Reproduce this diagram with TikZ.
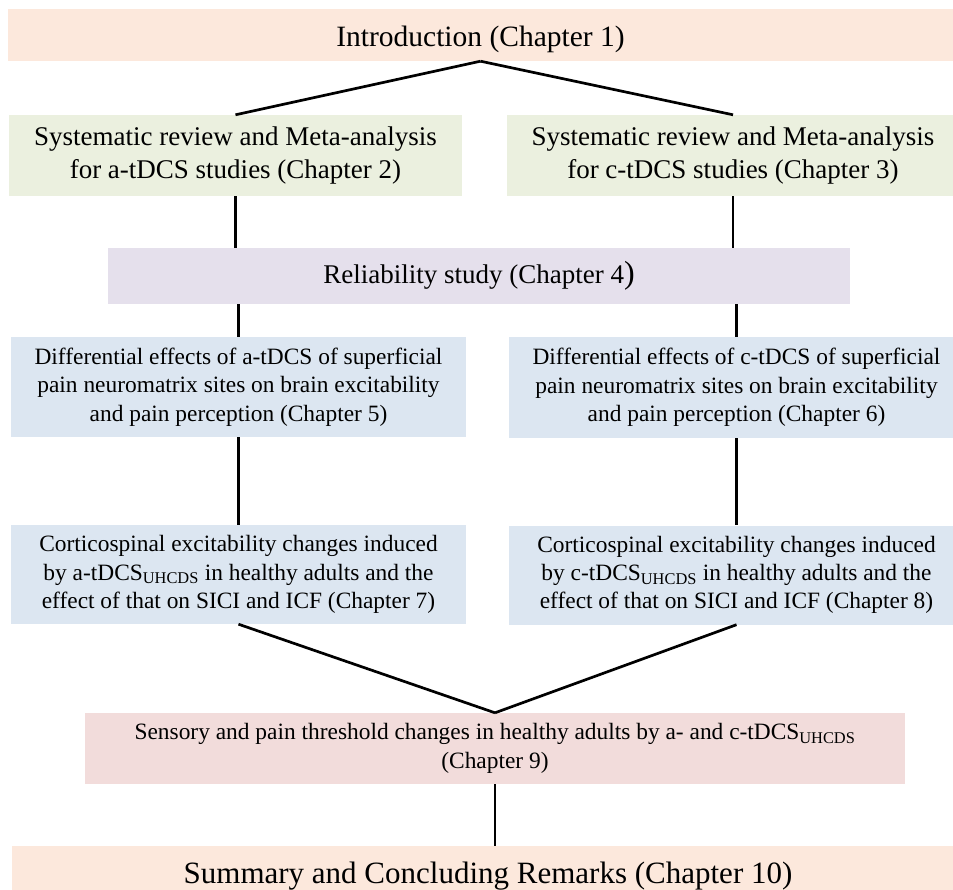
\documentclass[tikz,border=0pt]{standalone}
\usepackage{fontspec}
\setmainfont{Liberation Serif}
\definecolor{peach}{HTML}{FCE8DC}
\definecolor{olive}{HTML}{EBF0DF}
\definecolor{lilac}{HTML}{E5E0EC}
\definecolor{skyblue}{HTML}{DCE6F1}
\definecolor{rose}{HTML}{F2DCDB}
\tikzset{
  every node/.style={inner sep=0pt,text=black,align=center},
  big/.style={font=\fontsize{29.5}{34}\selectfont},
  huge/.style={font=\fontsize{31}{36}\selectfont},
  mid/.style={font=\fontsize{27}{33.3}\selectfont},
  small/.style={font=\fontsize{23.4}{28.3}\selectfont},
  chapbox/.style={fill=#1},
  link/.style={line width=2.7pt,draw=black},
}

\begin{document}
\begin{tikzpicture}[x=1pt,y=-1pt]
\path[use as bounding box] (0,0) rectangle (953,890);
\clip (0,0) rectangle (953,890);
% Opening and closing chapters span the full width.
\node[chapbox=peach,big,minimum width=945,minimum height=52,text height=30,text depth=6.5] (intro) at (480.5,35) {Introduction (Chapter 1)};
\node[chapbox=olive,mid,minimum width=453,minimum height=81] (a2) at (235.5,155.5) {Systematic review and Meta-analysis\\for a-tDCS studies (Chapter 2)};
\node[chapbox=olive,mid,minimum width=453,minimum height=81] (a3) at (733,155.5) {Systematic review and Meta-analysis\\for c-tDCS studies (Chapter 3)};
\node[chapbox=lilac,mid,minimum width=742,minimum height=56] (rel) at (479,276) {Reliability study (Chapter 4{\fontsize{32}{34}\selectfont)}};
% Anodal branch on the left, cathodal branch on the right.
\node[chapbox=skyblue,small,minimum width=455,minimum height=100] (a5) at (238.5,387) {Differential effects of a-tDCS of superficial\\pain neuromatrix sites on brain excitability\\and pain perception (Chapter 5)};
\node[chapbox=skyblue,small,minimum width=455,minimum height=101] (a6) at (736.5,387.5) {Differential effects of c-tDCS of superficial\\pain neuromatrix sites on brain excitability\\and pain perception (Chapter 6)};
\node[chapbox=skyblue,small,minimum width=455,minimum height=99] (a7) at (238.5,574.5) {Corticospinal excitability changes induced\\by a-tDCS\textsubscript{UHCDS} in healthy adults and the\\effect of that on SICI and ICF (Chapter 7)};
\node[chapbox=skyblue,small,minimum width=455,minimum height=99] (a8) at (736.5,575) {Corticospinal excitability changes induced\\by c-tDCS\textsubscript{UHCDS} in healthy adults and the\\effect of that on SICI and ICF (Chapter 8)};
\node[chapbox=rose,small,minimum width=820,minimum height=71] (a9) at (495,748.5) {Sensory and pain threshold changes in healthy adults by a- and c-tDCS\textsubscript{UHCDS}\\(Chapter 9)};
\node[chapbox=peach,huge,minimum width=952,minimum height=54,text height=27,text depth=7] (a10) at (488,873) {Summary and Concluding Remarks (Chapter 10)};
% Connectors
\draw[link] (intro.south) -- (a2.north);
\draw[link] (intro.south) -- (a3.north);
\draw[link] (a2.south) -- (a2.south |- rel.north);
\draw[link] (a3.south) -- (a3.south |- rel.north);
\draw[link] (a5.north |- rel.south) -- (a5.north);
\draw[link] (a6.north |- rel.south) -- (a6.north);
\draw[link] (a5.south) -- (a7.north);
\draw[link] (a6.south) -- (a8.north);
\draw[link] (a7.south) -- (a9.north);
\draw[link] (a8.south) -- (a9.north);
\draw[link] (a9.south) -- (a9.south |- a10.north);
\end{tikzpicture}
\end{document}
